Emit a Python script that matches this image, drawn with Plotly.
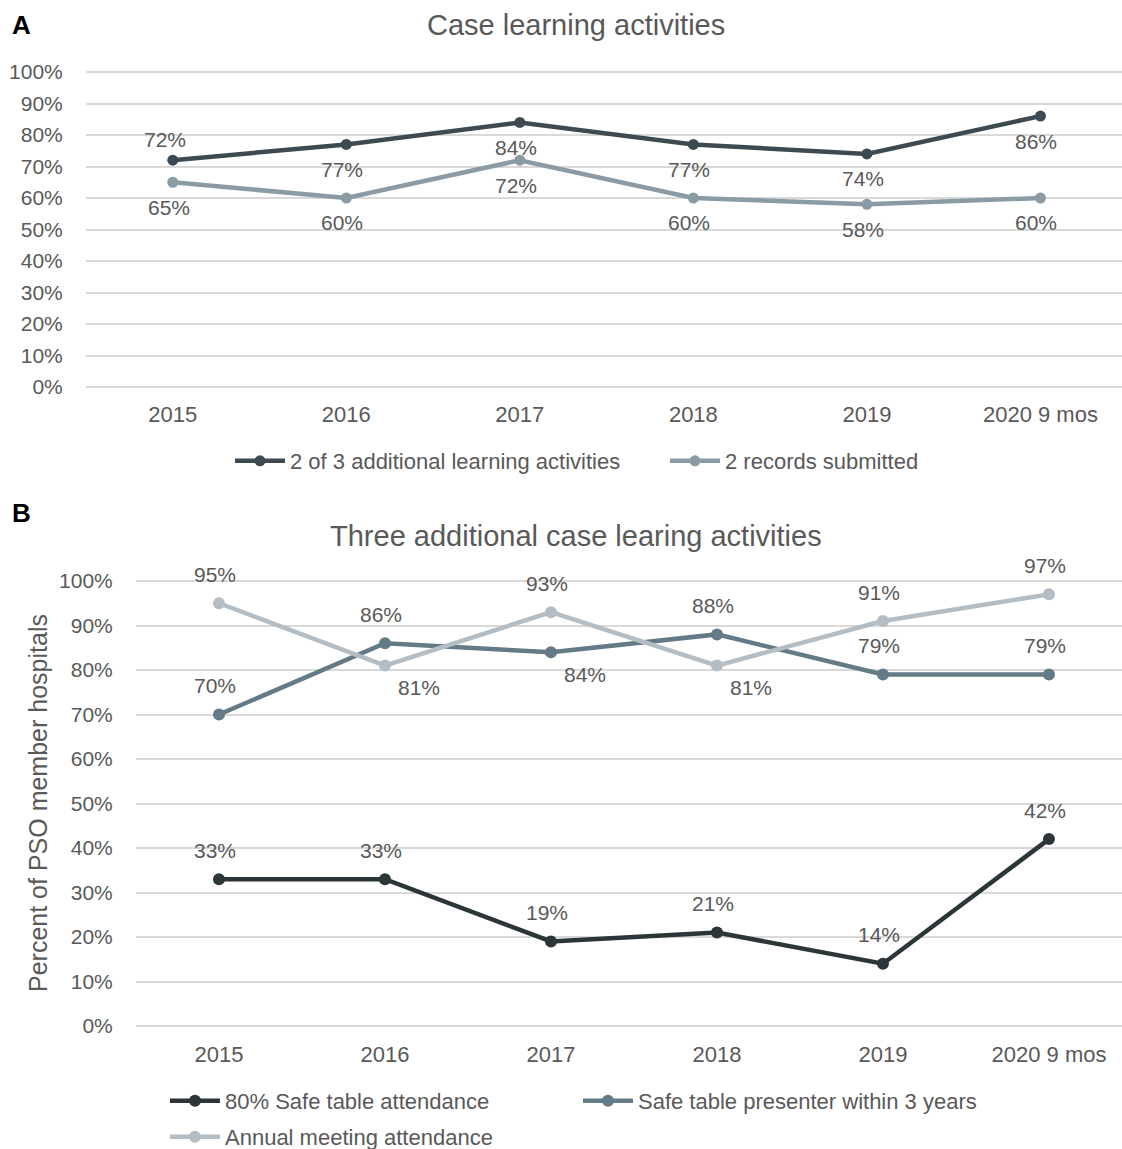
import plotly.graph_objects as go

years = ["2015", "2016", "2017", "2018", "2019", "2020 9 mos"]

# Panel A
a_names = ["2 of 3 additional learning activities", "2 records submitted"]
a_two_of_three = [0.72, 0.77, 0.84, 0.77, 0.74, 0.86]
a_records = [0.65, 0.60, 0.72, 0.60, 0.58, 0.60]
a_two_of_three_pos = ["above", "below", "below", "below", "below", "below"]
a_records_pos = ["below", "below", "below", "below", "below", "below"]

# Panel B
b_names = ["80% Safe table attendance", "Safe table presenter within 3 years", "Annual meeting attendance"]
b_safe_table = [0.33, 0.33, 0.19, 0.21, 0.14, 0.42]
b_presenter = [0.70, 0.86, 0.84, 0.88, 0.79, 0.79]
b_annual = [0.95, 0.81, 0.93, 0.81, 0.91, 0.97]
b_safe_table_pos = ["above"] * 6
b_presenter_pos = ["above", "above", "below right", "above", "above", "above"]
b_annual_pos = ["above", "below right", "above", "below right", "above", "above"]

y_ticks = [i / 10 for i in range(11)]

FONT = "Liberation Sans, Arial, sans-serif"
GREY = "#595959"
GRID = "#d9d9d9"

W, H = 1122, 1149

# label offsets (xshift, yshift) in px for each label position
A_OFF = {"above": (-8, 21), "below": (-4, -25)}
B_OFF = {"above": (-4, 29), "below": (0, -23), "below right": (34, -22)}

fig = go.Figure()

def add_series(name, ys, color, xa, ya, legend, msize):
    fig.add_trace(go.Scatter(
        x=years, y=ys, name=name, mode="lines+markers",
        line=dict(color=color, width=4.5),
        marker=dict(color=color, size=msize),
        xaxis=xa, yaxis=ya, legend=legend,
    ))

def add_labels(ys, pos, xa, ya, offs):
    for i, (y, p) in enumerate(zip(ys, pos)):
        dx, dy = offs[p]
        fig.add_annotation(
            x=i, y=y, xref=xa, yref=ya, text=f"{round(y*100)}%",
            showarrow=False, xshift=dx, yshift=dy,
            xanchor="center", yanchor="middle",
            font=dict(family=FONT, size=21, color=GREY),
        )

add_series(a_names[0], a_two_of_three, "#3e4a51", "x", "y", "legend", 11)
add_series(a_names[1], a_records, "#8b9ba5", "x", "y", "legend", 11)
add_series(b_names[0], b_safe_table, "#2c3538", "x2", "y2", "legend2", 12)
add_series(b_names[1], b_presenter, "#647a87", "x2", "y2", "legend2", 12)
add_series(b_names[2], b_annual, "#b3bdc3", "x2", "y2", "legend3", 12)

add_labels(a_two_of_three, a_two_of_three_pos, "x", "y", A_OFF)
add_labels(a_records, a_records_pos, "x", "y", A_OFF)
add_labels(b_safe_table, b_safe_table_pos, "x2", "y2", B_OFF)
add_labels(b_presenter, b_presenter_pos, "x2", "y2", B_OFF)
add_labels(b_annual, b_annual_pos, "x2", "y2", B_OFF)

PAD = 0.01

def yaxis(top_px, bottom_px, anchor):
    per = bottom_px - top_px
    return dict(
        domain=[1 - (bottom_px + PAD * per) / H, 1 - (top_px - PAD * per) / H],
        anchor=anchor, range=[-PAD, 1 + PAD], tickvals=y_ticks, tickformat=".0%",
        showgrid=True, gridcolor=GRID, gridwidth=1.5, zeroline=False,
        showline=False, ticks="outside", ticklen=18, tickcolor="rgba(0,0,0,0)",
        tickfont=dict(family=FONT, size=21, color=GREY), fixedrange=True,
    )

def xaxis(domain, anchor, rng):
    return dict(
        domain=domain, anchor=anchor, type="category", range=rng,
        showgrid=False, zeroline=False, showline=False,
        ticks="outside", ticklen=4, tickcolor="rgba(0,0,0,0)",
        tickfont=dict(family=FONT, size=22, color=GREY),
    )

LEG_FONT = dict(family=FONT, size=22, color=GREY)

fig.update_layout(
    width=W, height=H, margin=dict(l=0, r=0, t=0, b=0, autoexpand=False),
    paper_bgcolor="white", plot_bgcolor="white",
    font=dict(family=FONT, color=GREY),
    xaxis=xaxis([86 / W, 1.0], "y", [-0.5, 5.47]),
    yaxis=yaxis(72, 387, "x"),
    xaxis2=xaxis([136 / W, 1.0], "y2", [-0.5, 5.44]),
    yaxis2=yaxis(581, 1026, "x2"),
    legend=dict(orientation="h", x=230 / W, y=1 - 461 / H, xanchor="left", yanchor="middle",
                font=LEG_FONT, itemwidth=50, entrywidth=370, bgcolor="rgba(0,0,0,0)"),
    legend2=dict(orientation="h", x=165 / W, y=1 - 1101 / H, xanchor="left", yanchor="middle",
                 font=LEG_FONT, itemwidth=50, entrywidth=348, bgcolor="rgba(0,0,0,0)"),
    legend3=dict(orientation="h", x=165 / W, y=1 - 1137 / H, xanchor="left", yanchor="middle",
                 font=LEG_FONT, itemwidth=50, bgcolor="rgba(0,0,0,0)"),
    showlegend=True,
)

def paper_text(x, y, text, size, color=GREY, angle=0):
    fig.add_annotation(x=x / W, y=1 - y / H, xref="paper", yref="paper", text=text,
                       showarrow=False, xanchor="center", yanchor="middle", textangle=angle,
                       font=dict(family=FONT, size=size, color=color))

paper_text(576, 25, "Case learning activities", 29)
paper_text(576, 536, "Three additional case learing activities", 29)
paper_text(21, 25, "<b>A</b>", 26, "black")
paper_text(21, 513, "<b>B</b>", 26, "black")
paper_text(38, 803, "Percent of PSO member hospitals", 25, angle=-90)

fig.write_html("out.html")
